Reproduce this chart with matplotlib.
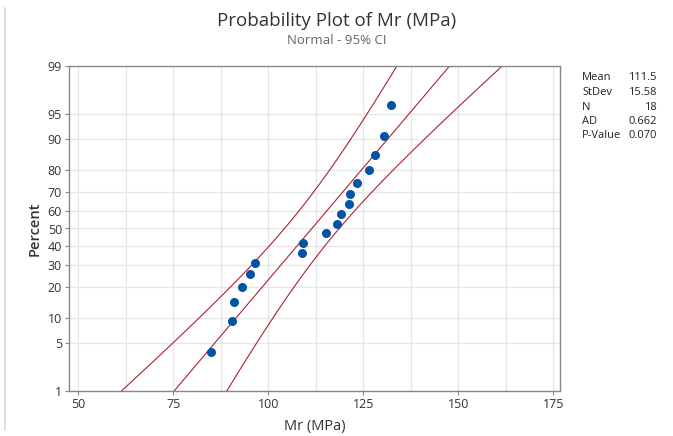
import numpy as np
import matplotlib.pyplot as plt
from matplotlib.lines import Line2D
from statistics import NormalDist

plt.rcParams["font.family"] = ["Open Sans", "DejaVu Sans"]

# observed Mr values (MPa), sorted
mr = [85.0, 90.5, 90.9, 93.0, 95.2, 96.6, 108.8, 109.2, 115.1,
      118.0, 119.2, 121.3, 121.5, 123.3, 126.5, 128.0, 130.4, 132.2]

mean = 111.5
stdev = 15.58
n = 18
ad = 0.662
pval = 0.070

pct_ticks = [1, 5, 10, 20, 30, 40, 50, 60, 70, 80, 90, 95, 99]
x_ticks = [50, 75, 100, 125, 150, 175]

nd = NormalDist()
z = lambda p: nd.inv_cdf(p)

# median rank plotting positions
ranks = np.arange(1, n + 1)
zpts = [z((i - 0.3) / (n + 0.4)) for i in ranks]

# fitted line and 95% CI
zz = np.linspace(-2.8, 2.8, 200)
fit = mean + zz * stdev
se = stdev / np.sqrt(n) * np.sqrt(1 + zz ** 2 / 2)
lo = fit - 1.96 * se
hi = fit + 1.96 * se

fig = plt.figure(figsize=(6.73, 4.36), dpi=100)
fig.patch.set_facecolor("white")
ax = fig.add_axes([69 / 673, 45 / 436, 491 / 673, 325 / 436])

red = "#b02030"
ax.plot(fit, zz, color=red, lw=0.8)
ax.plot(lo, zz, color=red, lw=0.8)
ax.plot(hi, zz, color=red, lw=0.8)
ax.plot(mr, zpts, "o", color="#0054a6", ms=6.5, mec="none", zorder=5)

ax.set_xlim(47.6, 176.8)
ax.set_ylim(z(0.01), z(0.99))
ax.set_xticks(x_ticks)
ax.set_xticks(np.arange(62.5, 176, 25), minor=True)
ax.set_yticks([z(p / 100) for p in pct_ticks])
ax.set_yticklabels([str(p) for p in pct_ticks])
ax.grid(True, which="both", color="#e6e6e6", lw=0.9)
ax.set_axisbelow(True)
for s in ax.spines.values():
    s.set_color("#888888")
    s.set_linewidth(1.0)
ax.tick_params(axis="both", which="major", direction="out", length=3,
               color="#888888", labelsize=9, labelcolor="#333333", pad=2)
ax.tick_params(axis="both", which="minor", length=0)

ax.set_xlabel("Mr (MPa)", fontsize=10.5, color="#333333", labelpad=6)
ax.set_ylabel("Percent", fontsize=10.5, color="#333333", fontweight="semibold", labelpad=4)

fig.text(0.5, 1 - 21 / 436, "Probability Plot of Mr (MPa)", ha="center", va="center",
         fontsize=13.5, color="#333333")
fig.text(0.5, 1 - 41 / 436, "Normal - 95% CI", ha="center", va="center",
         fontsize=9.5, color="#666666")

labels = ["Mean", "StDev", "N", "AD", "P-Value"]
vals = [f"{mean:.1f}", f"{stdev:.2f}", f"{n}", f"{ad:.3f}", f"{pval:.3f}"]
for k, (lab, v) in enumerate(zip(labels, vals)):
    yy = 1 - (78 + k * 14.5) / 436
    fig.text(582 / 673, yy, lab, ha="left", va="center", fontsize=8, color="#222222")
    fig.text(657 / 673, yy, v, ha="right", va="center", fontsize=8, color="#222222")

fig.add_artist(Line2D([4.5 / 673, 4.5 / 673], [6 / 436, 428 / 436], color="#d8d8d8", lw=1.2))

plt.savefig("out.png", dpi=100)
